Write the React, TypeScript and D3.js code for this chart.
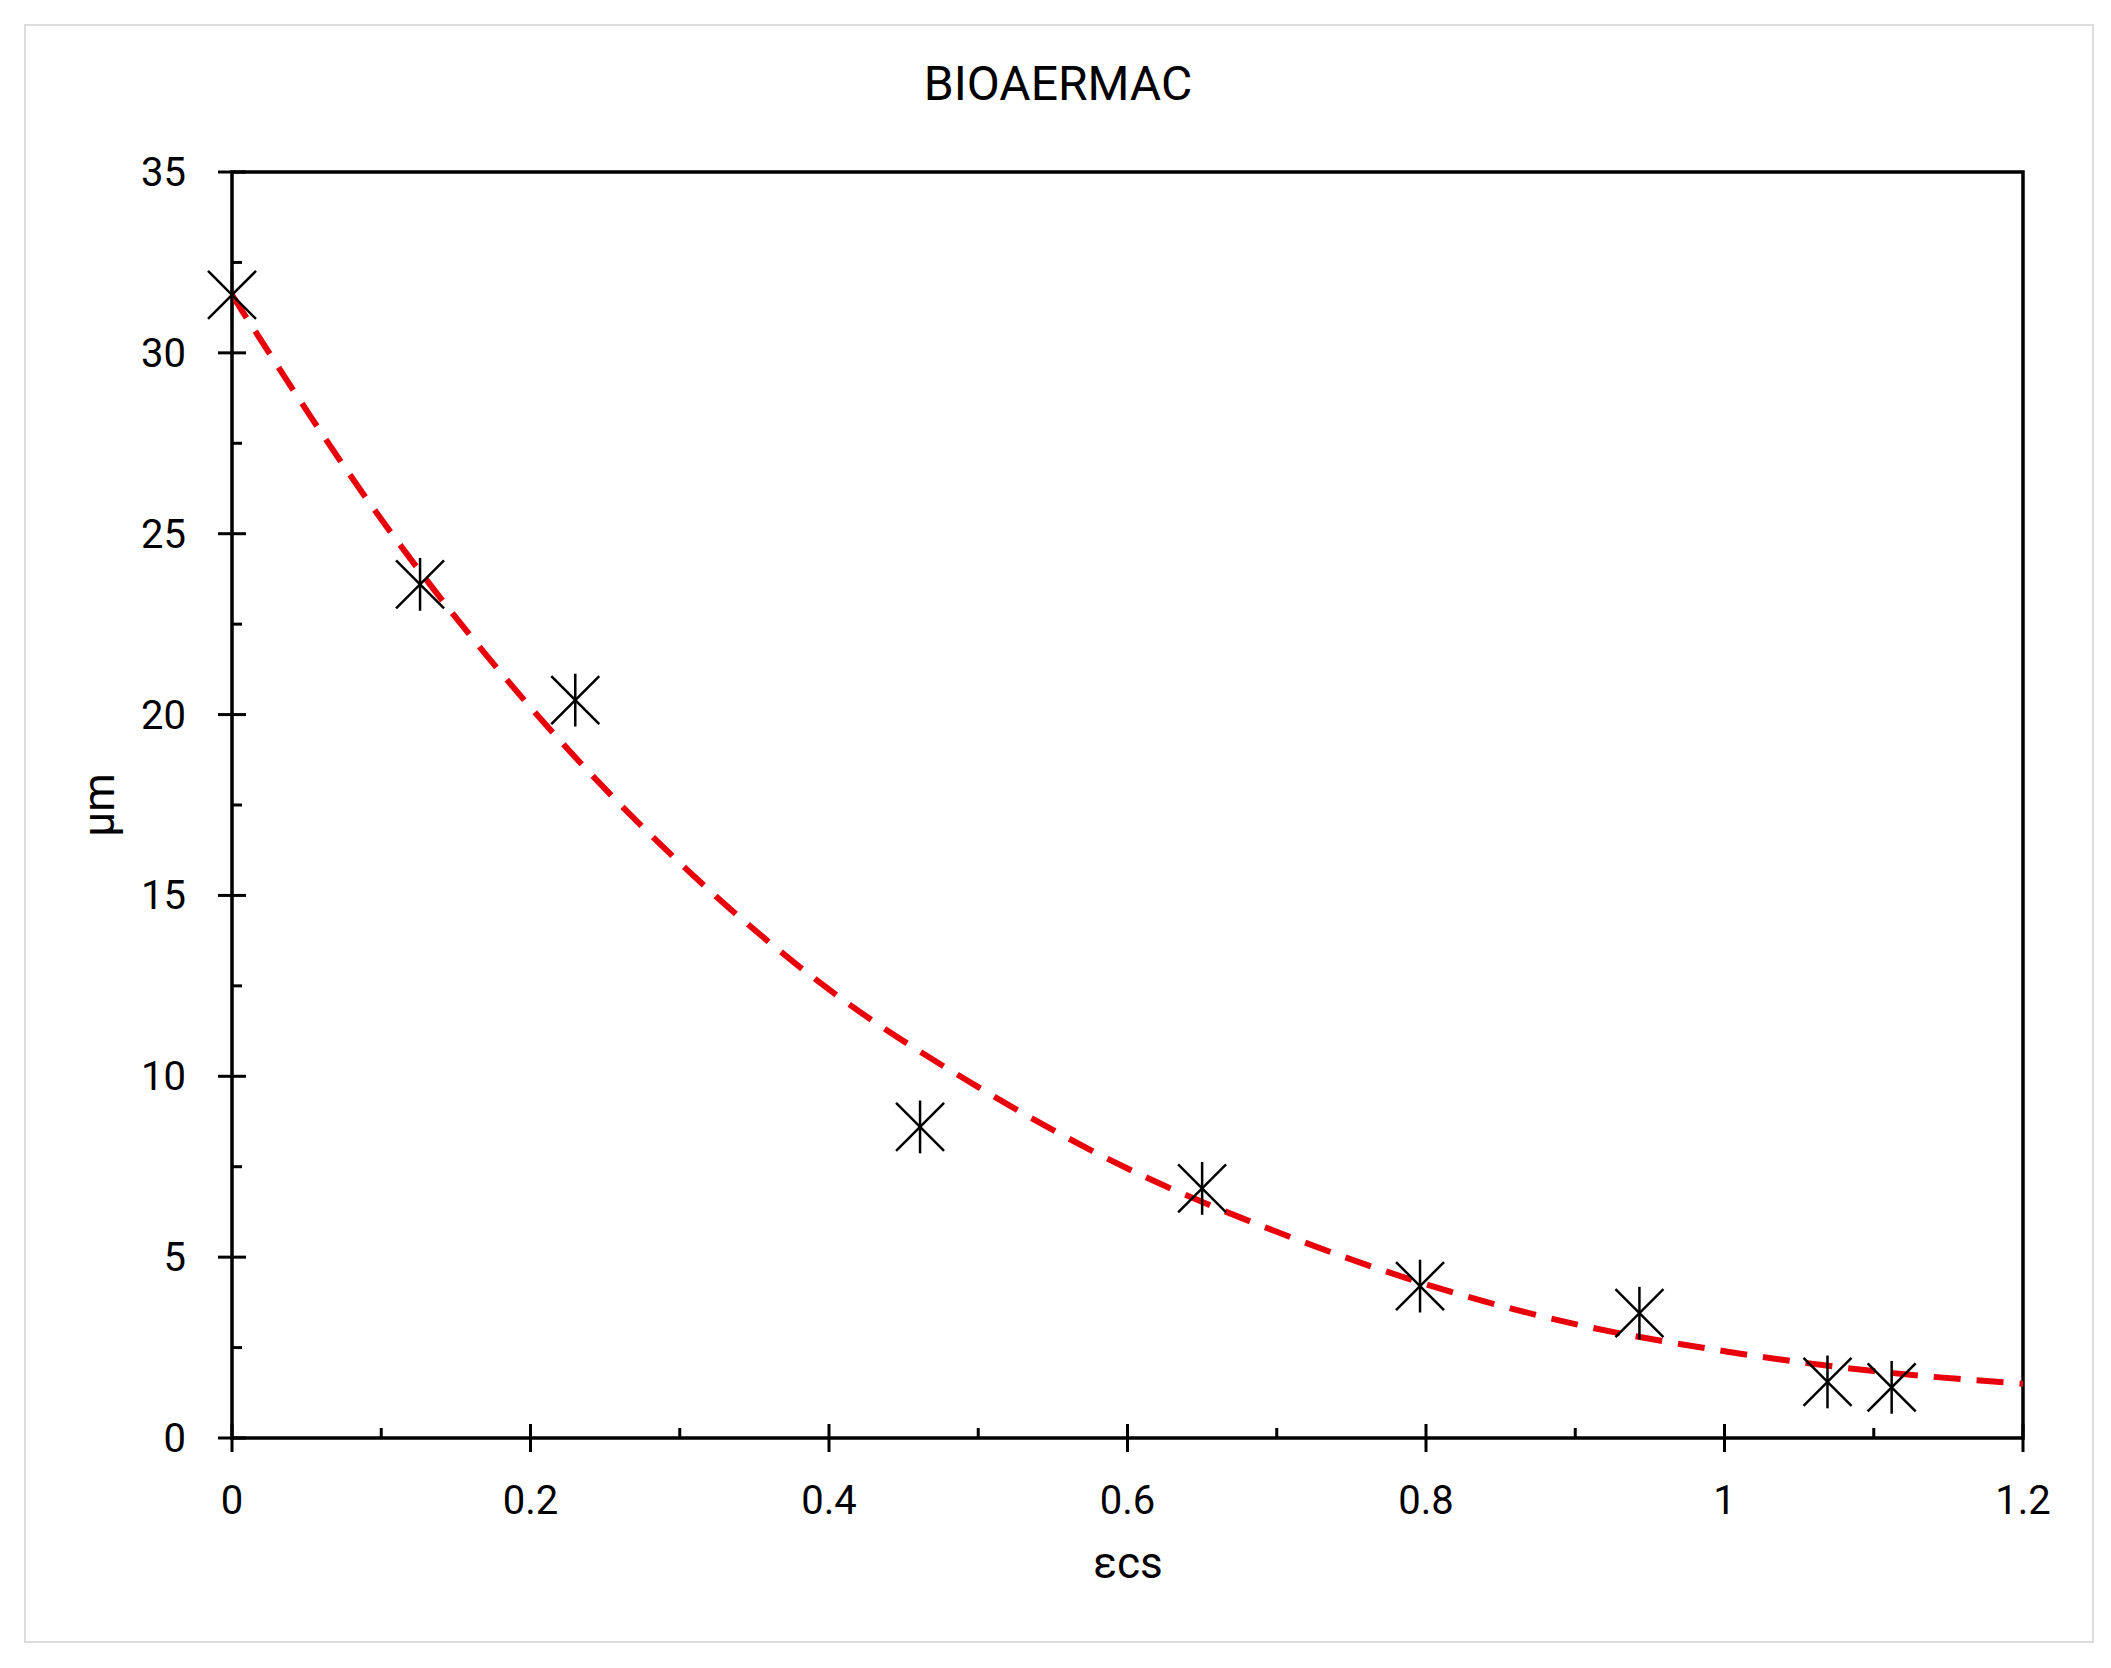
import { scaleLinear, line, curveMonotoneX, range } from "d3";

const pointX = [0, 0.126, 0.23, 0.461, 0.65, 0.796, 0.943, 1.069, 1.112];
const pointY = [31.6, 23.6, 20.4, 8.6, 6.9, 4.2, 3.45, 1.55, 1.4];
const trendX = [0, 0.1, 0.2, 0.3, 0.4, 0.5, 0.6, 0.7, 0.8, 0.9, 1.0, 1.1, 1.2];
const trendY = [31.6, 25.4, 20.2, 15.9, 12.4, 9.7, 7.45, 5.7, 4.25, 3.15, 2.4, 1.85, 1.5];
const xTicks = [0, 0.2, 0.4, 0.6, 0.8, 1, 1.2];
const yTicks = [0, 5, 10, 15, 20, 25, 30, 35];

const W = 2111, H = 1668;
const m = { left: 232, right: 2023, top: 172, bottom: 1438 };
const font = "Roboto, 'Liberation Sans', sans-serif";

export default function App() {
  const x = scaleLinear().domain([0, 1.2]).range([m.left, m.right]);
  const y = scaleLinear().domain([0, 35]).range([m.bottom, m.top]);
  const trend = line<number>()
    .x((_, i) => x(trendX[i]))
    .y((d) => y(d))
    .curve(curveMonotoneX)(trendY) as string;
  const s = 24;
  return (
    <svg width={W} height={H} style={{ position: "absolute", left: 0, top: 0 }}>
      <rect x={0} y={0} width={W} height={H} fill="white" />
      <rect x={25} y={25} width={2068} height={1617} fill="white" stroke="#dcdcdc" strokeWidth={2} />
      <text x={1058} y={100} textAnchor="middle" fontFamily={font} fontSize={48}>BIOAERMAC</text>
      <rect x={m.left} y={m.top} width={m.right - m.left} height={m.bottom - m.top} fill="none" stroke="black" strokeWidth={3.5} />
      {range(0, 35.01, 2.5).map((v) => {
        const major = v % 5 === 0;
        return <line key={v} x1={major ? m.left - 14 : m.left} x2={m.left + (major ? 14 : 10)} y1={y(v)} y2={y(v)} stroke="black" strokeWidth={3} />;
      })}
      {range(0, 1.201, 0.1).map((v, i) => {
        const major = i % 2 === 0;
        return <line key={i} x1={x(v)} x2={x(v)} y1={m.bottom - (major ? 14 : 10)} y2={major ? m.bottom + 14 : m.bottom} stroke="black" strokeWidth={3} />;
      })}
      {yTicks.map((v) => (
        <text key={v} x={m.left - 46} y={y(v) + 14} textAnchor="end" fontFamily={font} fontSize={40}>{v}</text>
      ))}
      {xTicks.map((v) => (
        <text key={v} x={x(v)} y={1514} textAnchor="middle" fontFamily={font} fontSize={40}>{v}</text>
      ))}
      <text x={1128} y={1578} textAnchor="middle" fontFamily={font} fontSize={44}>εcs</text>
      <text transform="translate(114,805) rotate(-90)" textAnchor="middle" fontFamily={font} fontSize={44}>μm</text>
      <path d={trend} fill="none" stroke="#e8000b" strokeWidth={6} strokeDasharray="27 16" />
      {pointX.map((px, i) => {
        const cx = x(px), cy = y(pointY[i]);
        return (
          <g key={i} stroke="black" strokeWidth={2.5}>
            <line x1={cx - s} y1={cy - s} x2={cx + s} y2={cy + s} />
            <line x1={cx - s} y1={cy + s} x2={cx + s} y2={cy - s} />
            <line x1={cx} y1={cy - s * 1.1} x2={cx} y2={cy + s * 1.1} />
          </g>
        );
      })}
    </svg>
  );
}
